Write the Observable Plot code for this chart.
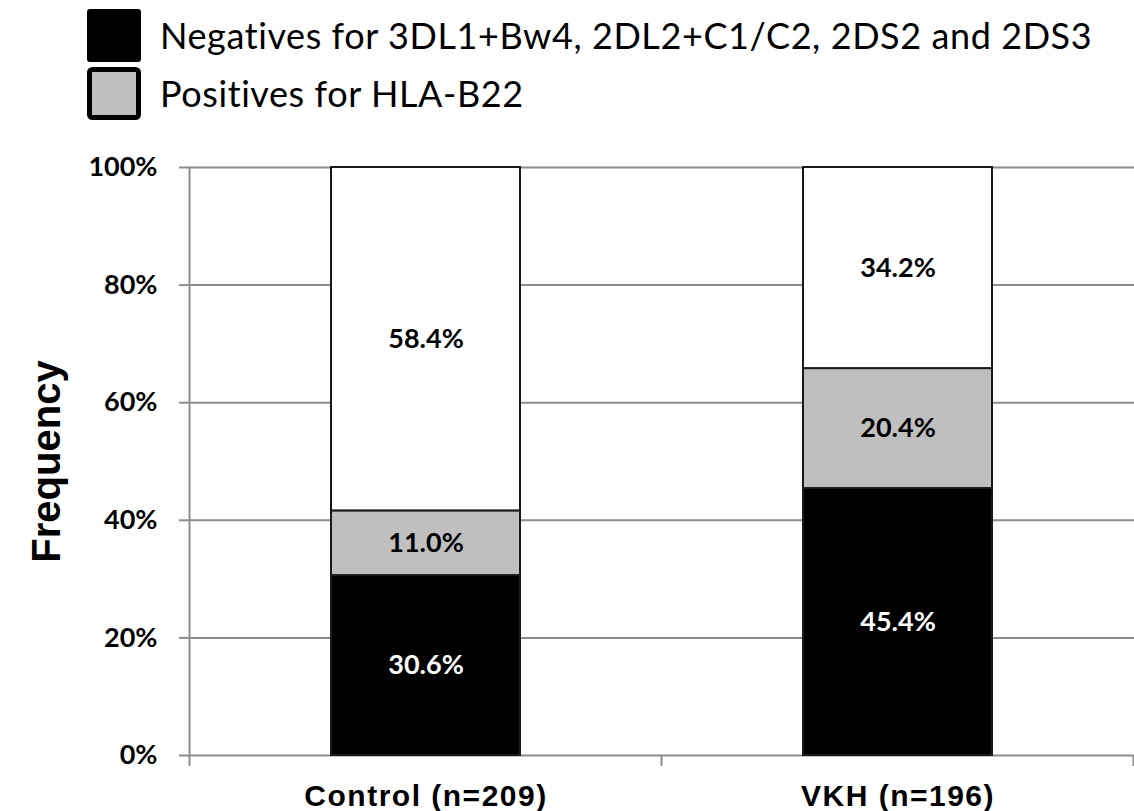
<!DOCTYPE html>
<html>
<head>
<meta charset="utf-8">
<script src="https://cdn.jsdelivr.net/npm/d3@7"></script>
<script src="https://cdn.jsdelivr.net/npm/@observablehq/plot@0.6"></script>
<style>
  body { margin: 0; background: white; }
  #chart { width: 1134px; }
  svg { display: block; }
</style>
</head>
<body>
<div id="chart"></div>
<script>
// ---- data ----
const groups = ["Control (n=209)", "VKH (n=196)"];
const seriesNames = [
  "Negatives for 3DL1+Bw4, 2DL2+C1/C2, 2DS2 and 2DS3",
  "Positives for HLA-B22",
  "Others"
];
const negatives = [30.6, 45.4];
const positivesB22 = [11.0, 20.4];
const others = [58.4, 34.2];
const yTicks = [0, 20, 40, 60, 80, 100];
const seriesColors = ["#000000", "#bfbfbf", "#ffffff"];
const labelColors = ["#ffffff", "#000000", "#000000"];
const legendEntries = [0, 1]; // series shown in the legend

const seriesValues = [negatives, positivesB22, others];
const data = [];
groups.forEach((g, gi) => {
  seriesNames.forEach((s, si) => {
    data.push({group: g, series: s, si, value: seriesValues[si][gi]});
  });
});

const W = 1134, LEG_H = 140, PLOT_H = 671;
const container = document.getElementById("chart");

// ---- legend ----
const legendFont = "Lato, 'Open Sans', sans-serif";
const legendSize = 36;
const ctx = document.createElement("canvas").getContext("2d");
ctx.font = `${legendSize}px ${legendFont}`;
const measured = ctx.measureText(seriesNames[0]).width;
const legendSpacing = Math.max(-2, Math.min(1, (933 - measured) / (seriesNames[0].length - 1)));

const leg = d3.create("svg").attr("width", W).attr("height", LEG_H);
legendEntries.forEach((si, k) => {
  const y0 = 9 + k * 58;
  if (si === 0) {
    leg.append("rect").attr("x", 87).attr("y", y0).attr("width", 54).attr("height", 53)
      .attr("rx", 3).attr("fill", seriesColors[si]);
  } else {
    leg.append("rect").attr("x", 89.5).attr("y", y0 + 2.5).attr("width", 49).attr("height", 48)
      .attr("rx", 3).attr("fill", seriesColors[si]).attr("stroke", "#000").attr("stroke-width", 5);
  }
  leg.append("text").attr("x", 160).attr("y", y0 + 40)
    .attr("font-family", legendFont).attr("font-size", legendSize)
    .attr("letter-spacing", legendSpacing)
    .attr("fill", "#000").text(seriesNames[si]);
});
container.appendChild(leg.node());

// ---- category boundary ticks (Excel style) ----
function boundaryTicks(index, scales, values, dimensions) {
  const x = scales.x, y = scales.y;
  const bw = x.bandwidth ? x.bandwidth() : 0;
  const step = x.step ? x.step() : bw;
  const y0 = y(0);
  const pos = [];
  groups.forEach((g, i) => {
    const left = x(g) - (step - bw) / 2;
    if (i === 0) pos.push(left);
    pos.push(left + step);
  });
  const g = d3.create("svg:g");
  g.selectAll("line").data(pos).join("line")
    .attr("x1", d => d).attr("x2", d => d)
    .attr("y1", y0).attr("y2", y0 + 11)
    .attr("stroke", "#8c8c8c").attr("stroke-width", 2);
  return g.node();
}

const chart = Plot.plot({
  width: W,
  height: PLOT_H,
  marginLeft: 189,
  marginRight: 0,
  marginTop: 27,
  marginBottom: 56,
  style: {background: "white", overflow: "visible"},
  x: {domain: groups, paddingInner: 0.6, paddingOuter: 0.3, label: null},
  y: {domain: [0, 100], label: null},
  color: {type: "identity"},
  marks: [
    Plot.ruleY(yTicks, {stroke: "#8c8c8c", strokeWidth: 2}),
    Plot.frame({anchor: "left", stroke: "#8c8c8c", strokeWidth: 2}),
    boundaryTicks,
    Plot.barY(data, {
      x: "group", y: "value", z: "series",
      fill: d => seriesColors[d.si],
      stroke: "#1a1a1a", strokeWidth: 2
    }),
    Plot.text(data, Plot.stackY({
      x: "group", y: "value", z: "series",
      text: d => d.value.toFixed(1) + "%",
      fill: d => labelColors[d.si],
      fontSize: 27, fontWeight: "bold", fontFamily: "Lato, sans-serif"
    })),
    Plot.axisY(yTicks, {
      tickFormat: d => d + "%",
      tickSize: 10, tickPadding: 22,
      stroke: "#8c8c8c", strokeWidth: 2,
      fill: "#000",
      fontSize: 27, fontWeight: "bold", fontFamily: "Lato, sans-serif",
      label: null
    }),
    Plot.axisY({
      ticks: [], tickSize: 0,
      label: "Frequency", labelAnchor: "center", labelOffset: 158, labelArrow: false,
      fill: "#000", fontSize: 40, fontWeight: "bold", fontFamily: "'Liberation Sans', Arial, sans-serif"
    }),
    Plot.axisX({
      tickSize: 0, tickPadding: 29,
      fill: "#000", fontSize: 30, fontWeight: "bold",
      fontFamily: "'Liberation Sans', Arial, sans-serif",
      label: null
    })
  ]
});
chart.querySelectorAll("g[aria-label='x-axis tick label'] text").forEach(t => t.setAttribute("letter-spacing", "1.5"));
container.appendChild(chart);
</script>
</body>
</html>
